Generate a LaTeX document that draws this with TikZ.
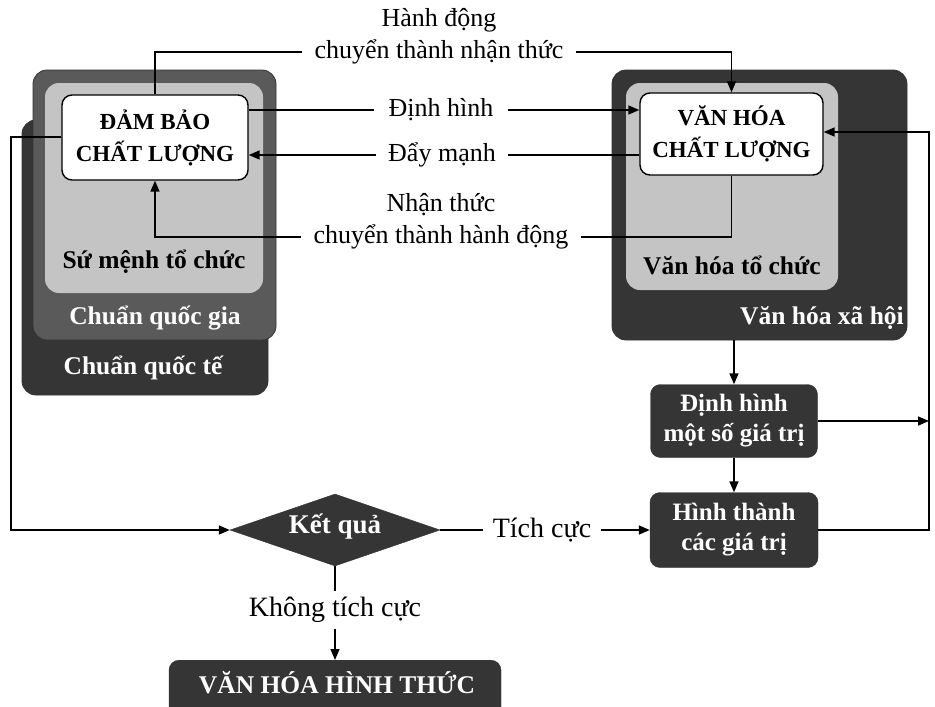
\documentclass[tikz,border=0pt]{standalone}
\usepackage{fontspec}
\setmainfont{Liberation Serif}
\usetikzlibrary{arrows.meta,shapes.geometric,fit,calc}
\definecolor{darkbox}{HTML}{353535}
\definecolor{midbox}{HTML}{5A5A5A}
\definecolor{lightbox}{HTML}{C4C4C4}
\tikzset{
  layer/.style={rounded corners=14pt, inner sep=0pt, draw=black!80, line width=0.8pt},
  whitebox/.style={rounded corners=10pt, draw=black, line width=1.4pt, fill=white, inner sep=0pt, align=center, font=\fontsize{23}{32}\selectfont\bfseries},
  darkstep/.style={rounded corners=10pt, fill=darkbox, draw=black!80, text=white, inner sep=0pt, align=center, font=\fontsize{25}{30}\selectfont\bfseries},
  boxtext/.style={font=\fontsize{25.5}{30}\selectfont\bfseries, inner sep=0pt},
  lbl/.style={font=\fontsize{26}{30}\selectfont, inner sep=0pt},
  gap/.style={font=\fontsize{26}{30}\selectfont, inner xsep=12pt, inner ysep=0pt},
  conn/.style={draw=black, line width=1.5pt},
  arr/.style={conn, -{Triangle[length=11pt,width=9pt]}},
}
\begin{document}
\begin{tikzpicture}[x=1pt,y=-1pt]
\useasboundingbox (0,0) rectangle (935,707);
\fill[white] (0,0) rectangle (935,707);
\clip (0,0) rectangle (935,707);
% left stack
\node[layer, fill=darkbox, fit={(22,120) (268,395)}] (quocte) {};
\node[layer, fill=midbox, fit={(33,70) (276,340)}] (quocgia) {};
\node[layer, fill=lightbox, draw=none, fit={(45,83) (263,293)}] (sumenh) {};
\node[whitebox, minimum width=186pt, minimum height=85pt] (dbcl) at (155,137.5) {ĐẢM BẢO\\CHẤT LƯỢNG};
\node[boxtext] (tsumenh) at (154,262) {Sứ mệnh tổ chức};
\node[boxtext, text=white] (tquocgia) at (155,318) {Chuẩn quốc gia};
\node[boxtext, text=white] (tquocte) at (143,368) {Chuẩn quốc tế};
% right stack
\node[layer, fill=darkbox, fit={(612,70) (907,340)}] (vhxh) {};
\node[layer, fill=lightbox, draw=none, fit={(626,83) (838,290)}] (vhtc) {};
\node[whitebox, minimum width=183pt, minimum height=82pt] (vhcl) at (731.5,134) {VĂN HÓA\\CHẤT LƯỢNG};
\node[boxtext] (tvhtc) at (732,265) {Văn hóa tổ chức};
\node[boxtext, text=white] (tvhxh) at (822,318) {Văn hóa xã hội};
% lower nodes
\node[darkstep, minimum width=167pt, minimum height=73pt] (dhgt) at (734,421) {Định hình\\một số giá trị};
\node[darkstep, minimum width=168pt, minimum height=75pt] (htgt) at (734,530) {Hình thành\\các giá trị};
\node[diamond, fill=darkbox, draw=black!80, inner sep=0pt, minimum width=210pt, minimum height=72pt] (kq) at (335,530) {};
\node[text=white, font=\fontsize{27}{30}\selectfont\bfseries, inner sep=0pt] (tkq) at (335,527) {Kết quả};
\node[darkstep, minimum width=332pt, minimum height=60pt, anchor=north] (vhht) at (335,660) {};
\node[text=white, font=\fontsize{25.5}{30}\selectfont\bfseries, inner sep=0pt] (tvhht) at (337,683) {VĂN HÓA HÌNH THỨC};
% labels
\node[lbl] (lA1) at (439,20) {Hành động};
\node[gap] (lA2) at (439,52) {chuyển thành nhận thức};
\node[gap, inner xsep=14pt] (lB) at (441,110) {Định hình};
\node[gap, inner xsep=12pt] (lC) at (442,155) {Đẩy mạnh};
\node[lbl] (lD1) at (441,205) {Nhận thức};
\node[gap] (lD2) at (441,237) {chuyển thành hành động};
\node[gap, inner xsep=10pt, font=\fontsize{28}{30}\selectfont] (lTC) at (542,530) {Tích cực};
\node[lbl, inner ysep=6pt, font=\fontsize{28}{30}\selectfont] (lKTC) at (335,610) {Không tích cực};
% coordinates
\coordinate (cA) at (155,52);
\coordinate (cD) at (155,237);
\coordinate (cL1) at (11,137);
\coordinate (cL2) at (11,530);
\coordinate (cR1) at (929,530);
\coordinate (cR2) at (929,132);
\coordinate (cR3) at (929,421);
% connectors
\draw[conn] (dbcl.north) -- (cA) -- (lA2.west);
\draw[arr] (lA2.east) -| (vhcl.north);
\draw[conn] (lB -| dbcl.east) -- (lB.west);
\draw[arr] (lB.east) -- (lB -| vhcl.west);
\draw[conn] (lC -| vhcl.west) -- (lC.east);
\draw[arr] (lC.west) -- (lC -| dbcl.east);
\draw[conn] (vhcl.south) |- (lD2.east);
\draw[arr] (lD2.west) -- (cD) -- (dbcl.south);
\draw[arr] (cL1 -| dbcl.west) -- (cL1) -- (cL2) -- (kq.west);
\draw[conn] (kq.east) -- (lTC.west);
\draw[arr] (lTC.east) -- (htgt.west);
\draw[conn] (kq.south) -- (lKTC.north);
\draw[arr] (lKTC.south) -- (vhht.north);
\draw[arr] (dhgt.north |- vhxh.south) -- (dhgt.north);
\draw[arr] (dhgt.south) -- (htgt.north);
\draw[arr] (dhgt.east) -- (cR3);
\draw[arr] (htgt.east) -- (cR1) -- (cR2) -- (cR2 -| vhcl.east);
\end{tikzpicture}
\end{document}
